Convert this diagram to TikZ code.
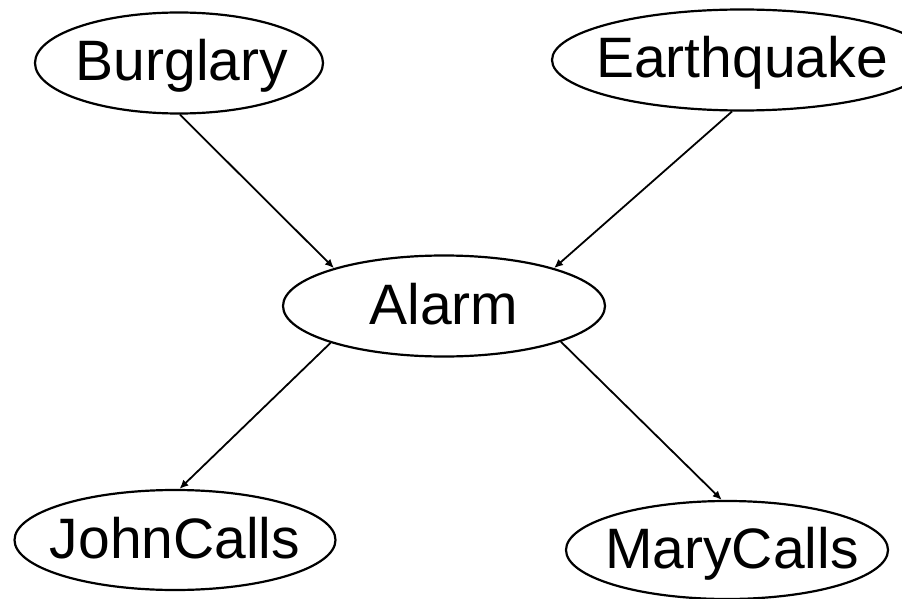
\documentclass[tikz,border=0pt]{standalone}
\usepackage{fontspec}
\setmainfont{Liberation Sans}
\usetikzlibrary{shapes.geometric,arrows.meta}
\newcommand{\vlabel}[1]{\makebox[0pt][c]{#1}}
\begin{document}
\begin{tikzpicture}[x=1pt,y=1pt,
  var/.style={ellipse,draw,line width=2.2pt,inner sep=0pt,
    font=\fontsize{57}{60}\selectfont,text height=41pt,text depth=5pt},
  edge/.style={line width=1.8pt,-{Latex[length=9pt,width=8pt]}}]
\useasboundingbox (0,0) rectangle (902,-599);
\clip (0,0) rectangle (902,-599);
\node[var,minimum width=288,minimum height=101] (B) at (179,-63) {\vlabel{\hspace{6pt}Burglary}};
\node[var,minimum width=380,minimum height=101] (E) at (742,-60) {\vlabel{Earthquake}};
\node[var,minimum width=322,minimum height=101] (A) at (444,-306) {\vlabel{Alarm}};
\node[var,minimum width=321,minimum height=100] (J) at (175,-540) {\vlabel{JohnCalls}};
\node[var,minimum width=322,minimum height=98] (M) at (727,-550) {\vlabel{\hspace{10pt}MaryCalls}};
\draw[edge] (B.-89) -- (A.161);
\draw[edge] (E.-101) -- (A.19.7);
\draw[edge] (A.-162.6) -- (J.85);
\draw[edge] (A.-17.4) -- (M.96.5);
\end{tikzpicture}
\end{document}
